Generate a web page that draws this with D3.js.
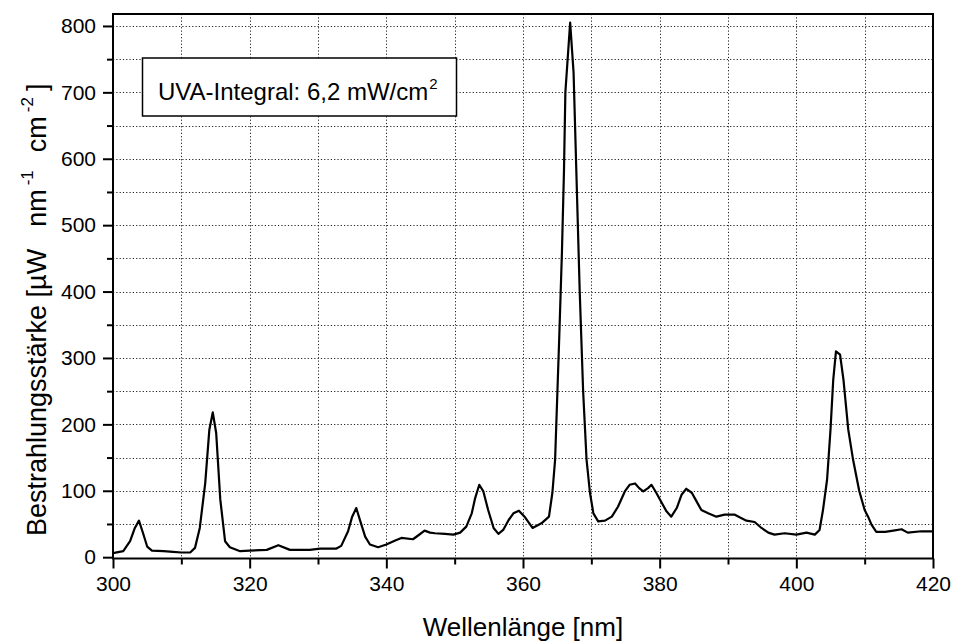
<!DOCTYPE html>
<html>
<head>
<meta charset="utf-8">
<script src="https://cdn.jsdelivr.net/npm/d3@7"></script>
<style>
  body { margin: 0; background: #fff; }
  svg { display: block; font-family: "Liberation Sans", Arial, sans-serif; }
</style>
</head>
<body>
<svg></svg>
<script>
// wavelength [nm] and irradiance [uW nm-1 cm-2]
var wavelength = [
  300, 301.5, 302.5, 303.2, 303.8, 304.4, 305, 305.7, 307.4, 308.8,
  310, 311.3, 312, 312.7, 313.5, 314.1, 314.6, 315.1, 315.7, 316.4,
  317.1, 318.6, 320, 322.5, 324.2, 325.9, 328.8, 330.3, 332.7, 333.4,
  334.4, 335, 335.6, 336.2, 336.9, 337.6, 338.8, 340, 341.3, 342.2,
  343.9, 344.7, 345.6, 346.4, 347.1, 348.6, 349.8, 350.8, 351.7, 352.5,
  353, 353.6, 354.2, 354.9, 355.7, 356.4, 357.1, 357.9, 358.6, 359.4,
  360.3, 361.4, 362.7, 363.8, 364.3, 364.7, 365.3, 365.7, 366, 366.2,
  366.9, 367.4, 367.8, 368.3, 368.8, 369.3, 369.8, 370.3, 371, 372,
  373, 373.9, 374.9, 375.6, 376.4, 377, 377.6, 378.3, 378.8, 379.5,
  380.3, 381, 381.7, 382.5, 383.2, 383.9, 384.7, 385.4, 386.1, 387.1,
  388.3, 389.5, 391, 391.7, 392.7, 393.9, 394.9, 395.9, 396.8, 398.3,
  400, 401.5, 402.7, 403.4, 403.9, 404.5, 405, 405.4, 405.8, 406.4,
  406.9, 407.6, 408.3, 409.2, 410, 410.5, 411, 411.7, 413, 414.2,
  415.4, 416.3, 418.3, 420
];
var irradiance = [
  6, 9, 24, 44, 55, 36, 16, 10, 9, 8,
  7, 7, 14, 44, 112, 192, 218, 187, 87, 24,
  15, 9, 10, 11, 18, 11, 11, 13, 13, 17,
  39, 61, 74, 54, 31, 19, 15, 19, 25, 29,
  27, 33, 40, 37, 36, 35, 34, 37, 46, 66,
  89, 109, 99, 71, 44, 35, 41, 56, 66, 70,
  60, 44, 51, 61, 97, 147, 330, 460, 583, 700,
  805, 730, 583, 400, 250, 147, 97, 66, 54, 55,
  61, 76, 99, 109, 111, 104, 99, 104, 109, 97,
  82, 69, 61, 74, 94, 103, 97, 84, 71, 66,
  61, 64, 64, 60, 55, 53, 44, 37, 34, 36,
  34, 37, 34, 41, 71, 117, 192, 267, 310, 305,
  267, 192, 147, 100, 71, 61, 49, 38, 38, 40,
  42, 37, 39, 39
];
var xTicks = [300, 320, 340, 360, 380, 400, 420];
var yTicks = [0, 100, 200, 300, 400, 500, 600, 700, 800];

var width = 953,
    height = 642;
var plotLeft = 113, plotRight = 933, plotTop = 14, plotBottom = 558.5;

var svg = d3.select("svg")
    .attr("width", width)
    .attr("height", height);

var x = d3.scaleLinear().domain([300, 420]).range([plotLeft, plotRight]);
var y = d3.scaleLinear().domain([-2, 818]).range([plotBottom, plotTop]);

var data = wavelength.map(function(w, i) { return [w, irradiance[i]]; });

// dotted grid, every 10 nm and every 50 units
var grid = svg.append("g")
    .attr("stroke", "#222")
    .attr("stroke-width", 1)
    .attr("stroke-dasharray", "1.2,2.1");
grid.selectAll("line.v")
    .data(d3.range(310, 420, 10))
    .enter().append("line")
    .attr("class", "v")
    .attr("x1", function(d) { return Math.round(x(d)) + 0.5; })
    .attr("x2", function(d) { return Math.round(x(d)) + 0.5; })
    .attr("y1", plotTop)
    .attr("y2", plotBottom);
grid.selectAll("line.h")
    .data(d3.range(50, 801, 50))
    .enter().append("line")
    .attr("class", "h")
    .attr("x1", plotLeft)
    .attr("x2", plotRight)
    .attr("y1", function(d) { return Math.round(y(d)) + 0.5; })
    .attr("y2", function(d) { return Math.round(y(d)) + 0.5; });

function styleAxis(g) {
  g.select(".domain").remove();
  g.selectAll("line").attr("stroke-width", 2);
  g.selectAll("text")
    .attr("font-size", 21)
    .attr("fill", "#000")
    .attr("font-family", "Liberation Sans, Arial, sans-serif");
}

// minor ticks
svg.append("g")
    .attr("transform", "translate(0," + plotBottom + ")")
    .call(d3.axisBottom(x).tickValues(d3.range(310, 420, 20)).tickSize(6).tickFormat(""))
    .call(styleAxis);
svg.append("g")
    .attr("transform", "translate(" + plotLeft + ",0)")
    .call(d3.axisLeft(y).tickValues(d3.range(50, 800, 100)).tickSize(6).tickFormat(""))
    .call(styleAxis);

// major ticks + labels
svg.append("g")
    .attr("transform", "translate(0," + plotBottom + ")")
    .call(d3.axisBottom(x).tickValues(xTicks).tickSize(10).tickPadding(8).tickFormat(d3.format("d")))
    .call(styleAxis);
svg.append("g")
    .attr("transform", "translate(" + plotLeft + ",0)")
    .call(d3.axisLeft(y).tickValues(yTicks).tickSize(10).tickPadding(7).tickFormat(d3.format("d")))
    .call(styleAxis);

// frame
svg.append("rect")
    .attr("x", plotLeft)
    .attr("y", plotTop)
    .attr("width", plotRight - plotLeft)
    .attr("height", plotBottom - plotTop)
    .attr("fill", "none")
    .attr("stroke", "#000")
    .attr("stroke-width", 2);

// spectrum
var line = d3.line()
    .x(function(d) { return x(d[0]); })
    .y(function(d) { return y(d[1]); });
svg.append("path")
    .datum(data)
    .attr("d", line)
    .attr("fill", "none")
    .attr("stroke", "#000")
    .attr("stroke-width", 2.2)
    .attr("stroke-linejoin", "round");

// integral box
svg.append("rect")
    .attr("x", 142.5)
    .attr("y", 58)
    .attr("width", 314)
    .attr("height", 58)
    .attr("fill", "#fff")
    .attr("stroke", "#000")
    .attr("stroke-width", 1.5);
var label = svg.append("text")
    .attr("x", 158)
    .attr("y", 100)
    .attr("font-size", 24)
    .text("UVA-Integral: 6,2 mW/cm");
label.append("tspan")
    .attr("font-size", 15)
    .attr("dx", 1)
    .attr("dy", -11)
    .text("2");

// axis titles
svg.append("text")
    .attr("x", (plotLeft + plotRight) / 2)
    .attr("y", 636)
    .attr("text-anchor", "middle")
    .attr("font-size", 26)
    .text("Wellenlänge [nm]");

var ylab = svg.append("text")
    .attr("transform", "translate(46,536) rotate(-90)")
    .attr("font-size", 27)
    .text("Bestrahlungsstärke [µW");
ylab.append("tspan").attr("dx", 22).text("nm");
ylab.append("tspan").attr("font-size", 17).attr("dx", 4).attr("dy", -13).text("-1");
ylab.append("tspan").attr("dx", 18).attr("dy", 13).text("cm");
ylab.append("tspan").attr("font-size", 17).attr("dx", 4).attr("dy", -13).text("-2");
ylab.append("tspan").attr("dx", 6).attr("dy", 13).text("]");
</script>
</body>
</html>
